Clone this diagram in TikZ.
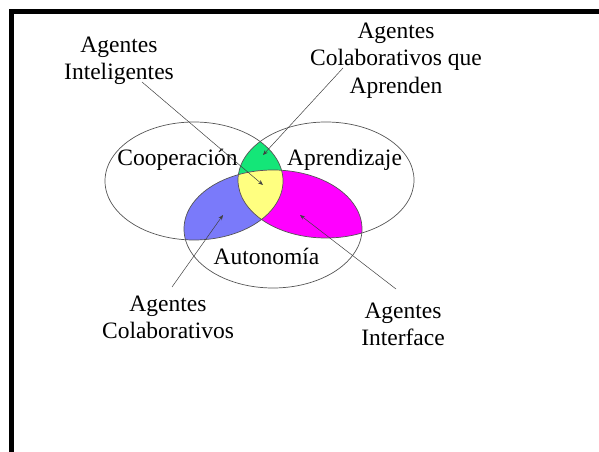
\documentclass[tikz,border=0pt]{standalone}
\usepackage{fontspec}
\setmainfont{Liberation Serif}
\usetikzlibrary{arrows.meta}

\definecolor{lensgreen}{RGB}{20,230,120}
\definecolor{lensblue}{RGB}{122,122,250}
\definecolor{lensmagenta}{RGB}{255,0,255}
\definecolor{lensyellow}{RGB}{255,255,128}
\definecolor{outline}{RGB}{85,85,85}

\tikzset{
  setlabel/.style={font=\fontsize{23.5bp}{27.5bp}\selectfont, inner sep=0pt, anchor=base},
  typelabel/.style={font=\fontsize{23.5bp}{27.5bp}\selectfont, inner sep=0pt, anchor=north, align=center},
  leader/.style={draw=black!75, line width=0.5bp, -{Stealth[length=5bp,width=4bp]}},
  ring/.style={draw=outline, line width=0.7bp},
}

\begin{document}
\begin{tikzpicture}[x=1bp, y=-1bp]
  \useasboundingbox (0,0) rectangle (599,452);

  % frame on the top and left edges
  \draw[line width=5bp, line join=miter] (11.5,452) -- (11.5,11.5) -- (599,11.5);

  % the three sets
  \def\setL{(194,181) ellipse [x radius=89, y radius=59]}
  \def\setR{(326,180) ellipse [x radius=88, y radius=58]}
  \def\setB{(273,229) ellipse [x radius=89, y radius=59]}

  % coloured intersections
  \begin{scope}
    \clip \setL; \fill[lensgreen] \setR;
  \end{scope}
  \begin{scope}
    \clip \setL; \fill[lensblue] \setB;
  \end{scope}
  \begin{scope}
    \clip \setR; \fill[lensmagenta] \setB;
  \end{scope}
  \begin{scope}
    \clip \setL; \clip \setR; \fill[lensyellow] \setB;
  \end{scope}

  % outlines
  \draw[ring] \setL;
  \draw[ring] \setR;
  \draw[ring] \setB;

  % set names
  \node[setlabel] (coop)  at (177.5,166) {Cooperación};
  \node[setlabel] (apren) at (344.5,166) {Aprendizaje};
  \node[setlabel] (auton) at (266.5,265) {Autonomía};

  % agent types
  \node[typelabel] (intel)  at (119,36.4)  {Agentes\\Inteligentes};
  \node[typelabel] (capren) at (396,22.4)  {Agentes\\Colaborativos que\\Aprenden};
  \node[typelabel] (colab)  at (168,295.4) {Agentes\\Colaborativos};
  \node[typelabel] (interf) at (403,302.4) {Agentes\\Interface};

  % leader start and end points
  \coordinate (intelS)  at (142,82);
  \coordinate (caprenS) at (343,68);
  \coordinate (colabS)  at (172,287);
  \coordinate (interfS) at (396,289);
  \coordinate (inYellow)  at (263,185);
  \coordinate (inGreen)   at (263,155);
  \coordinate (inBlue)    at (223,215);
  \coordinate (inMagenta) at (300,215);

  \draw[leader] (intelS)  -- (inYellow);
  \draw[leader] (caprenS) -- (inGreen);
  \draw[leader] (colabS)  -- (inBlue);
  \draw[leader] (interfS) -- (inMagenta);
\end{tikzpicture}
\end{document}
